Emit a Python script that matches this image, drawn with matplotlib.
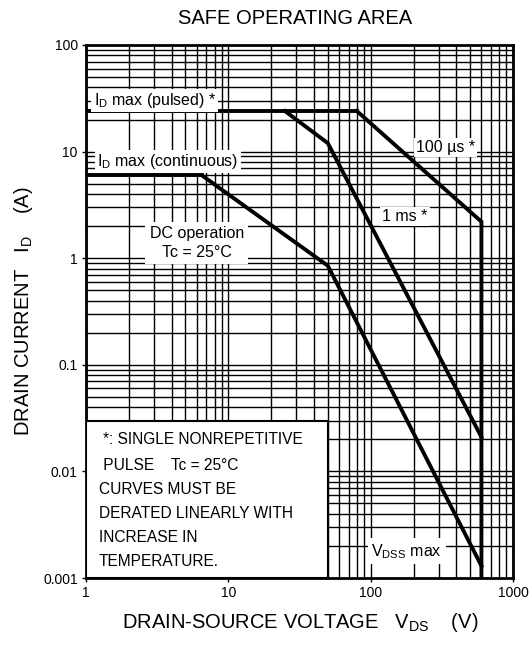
import matplotlib
matplotlib.use("Agg")
import matplotlib.pyplot as plt
from matplotlib.patches import Rectangle
from matplotlib.ticker import LogLocator, FixedLocator, NullFormatter

plt.rcParams['font.family'] = ['Liberation Sans', 'DejaVu Sans']
plt.rcParams['mathtext.default'] = 'regular'

# safe operating area boundaries (V, A)
pulsed_v = [1, 80]
pulsed_i = [24, 24]
cont_v = [1, 6.5]
cont_i = [6, 6]
dc_v = [6.5, 50, 600]
dc_i = [6, 0.85, 0.0013]
ms1_v = [25, 50, 600]
ms1_i = [24, 12, 0.021]
us100_v = [80, 600, 600]
us100_i = [24, 2.2, 0.001]

x_ticks = [1, 10, 100, 1000]
x_ticklabels = ["1", "10", "100", "1000"]
y_ticks = [0.001, 0.01, 0.1, 1, 10, 100]
y_ticklabels = ["0.001", "0.01", "0.1", "1", "10", "100"]

notes = ["*: SINGLE NONREPETITIVE",
         " PULSE    Tc = 25°C",
         "CURVES MUST BE",
         "DERATED LINEARLY WITH",
         "INCREASE IN",
         "TEMPERATURE."]

fig = plt.figure(figsize=(5.3, 6.48), dpi=100)
ax = fig.add_axes([86/530, 70/648, 427/530, 533/648])
ax.set_xscale('log')
ax.set_yscale('log')
ax.set_xlim(1, 1000)
ax.set_ylim(0.001, 100)

ax.set_xticks(x_ticks)
ax.set_xticklabels(x_ticklabels)
ax.set_yticks(y_ticks)
ax.set_yticklabels(y_ticklabels)
ax.xaxis.set_minor_locator(LogLocator(base=10, subs=range(2, 10)))
ax.yaxis.set_minor_locator(LogLocator(base=10, subs=range(2, 10)))
ax.xaxis.set_minor_formatter(NullFormatter())
ax.yaxis.set_minor_formatter(NullFormatter())
ax.tick_params(which='major', length=3, width=1, labelsize=10, pad=3)
ax.tick_params(which='minor', length=0)
ax.grid(which='both', color='black', linewidth=1.0)
ax.set_axisbelow(True)
for s in ax.spines.values():
    s.set_linewidth(2)

lw = 2.8
for v, i in [(pulsed_v, pulsed_i), (cont_v, cont_i), (dc_v, dc_i),
             (ms1_v, ms1_i), (us100_v, us100_i)]:
    ax.plot(v, i, color='black', linewidth=lw, solid_joinstyle='miter', zorder=4)

box = dict(facecolor='white', edgecolor='none', pad=1.5)
ax.text(1.13, 30, "I$_D$ max (pulsed) *", fontsize=11.5, va='center', ha='left',
        bbox=box, zorder=5)
ax.text(1.2, 8.1, "I$_D$ max (continuous)", fontsize=11.5, va='center', ha='left',
        bbox=box, zorder=5)
ax.text(6.0, 1.38, "DC operation\nTc = 25°C", fontsize=11.5, va='center', ha='center',
        linespacing=1.3, bbox=dict(facecolor='white', edgecolor='none', pad=3), zorder=5)
ax.text(334, 10.9, "100 µs *", fontsize=11.5, va='center', ha='center',
        bbox=box, zorder=5)
ax.text(174, 2.44, "1 ms *", fontsize=11.5, va='center', ha='center',
        bbox=box, zorder=5)
ax.text(179, 0.00178, "V$_{DSS}$ max", fontsize=11.5, va='center', ha='center',
        bbox=dict(facecolor='white', edgecolor='none', pad=2.5), zorder=5)

ax.add_patch(Rectangle((1, 0.001), 49, 0.029, facecolor='white', edgecolor='black',
                       linewidth=1.5, zorder=5))
note_y = [439, 465, 489, 514, 537, 562]
note_x = [103, 99, 99, 99, 99, 99]
for txt, px, py in zip(notes, note_x, note_y):
    ax.text((px - 86) / 427, (578 - py) / 533, txt, transform=ax.transAxes,
            fontsize=11.2, va='center', ha='left', zorder=6)

fig.text(295/530, 1 - 18/648, "SAFE OPERATING AREA", fontsize=14.5,
         ha='center', va='center')
fig.text(300/530, 1 - 622/648, "DRAIN-SOURCE VOLTAGE   V$_{DS}$    (V)", fontsize=14.5,
         ha='center', va='center')
fig.text(24/530, 1 - 311/648, "DRAIN CURRENT   I$_D$    (A)", fontsize=14.5,
         ha='center', va='center', rotation=90)

fig.savefig("out.png", dpi=100)
